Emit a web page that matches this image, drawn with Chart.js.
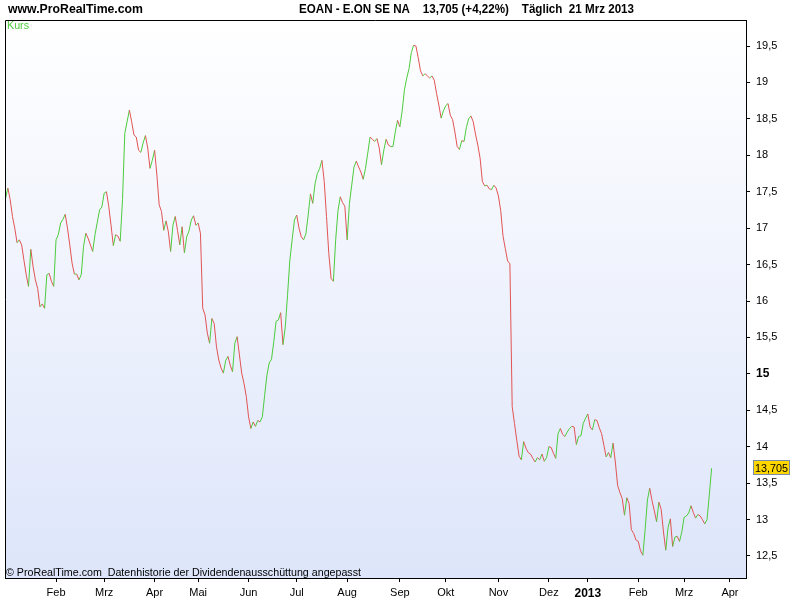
<!DOCTYPE html>
<html><head><meta charset="utf-8">
<script src="https://cdn.jsdelivr.net/npm/chart.js@4/dist/chart.umd.min.js"></script>
<style>html,body{margin:0;padding:0;background:#fff}#wrap{width:800px;height:600px;position:relative}</style>
</head><body><div id="wrap"><canvas id="c" width="800" height="600"></canvas></div>
<script>
// Daily closing prices (trading day index 0 = early Jan 2012)
const closes = [
17.41,17.55,17.39,17.16,17.00,16.80,16.84,16.77,16.56,16.36,
16.20,16.71,16.47,16.29,16.17,15.92,15.96,15.90,16.36,16.38,
16.27,16.20,16.84,16.91,17.07,17.12,17.19,17.00,16.77,16.52,
16.37,16.37,16.29,16.36,16.75,16.93,16.86,16.77,16.68,16.91,
17.08,17.25,17.29,17.48,17.50,17.30,17.04,16.76,16.91,16.89,
16.82,17.39,18.30,18.46,18.62,
18.46,18.28,18.25,18.07,18.04,18.17,18.27,18.10,17.82,17.93,
18.07,17.73,17.32,17.23,16.97,17.10,16.95,16.68,17.04,17.16,
16.97,16.77,17.02,16.66,16.88,16.96,17.11,17.17,17.04,17.07,
16.93,15.90,15.81,15.56,15.42,15.76,15.69,15.37,15.19,15.08,
15.01,15.18,15.24,15.12,15.03,15.42,15.51,15.26,15.01,14.87,
14.69,14.41,
14.25,14.34,14.28,14.36,14.34,14.41,14.70,14.98,15.15,15.20,
15.44,15.72,15.74,15.84,15.40,15.64,16.08,16.56,16.84,17.11,
17.18,17.00,16.88,16.84,16.92,17.18,17.47,17.34,17.61,17.75,
17.82,17.93,17.64,17.16,16.65,16.31,16.27,16.84,17.24,17.43,
17.35,17.30,16.84,17.34,17.59,17.84,17.92,17.84,17.77,17.67,
17.82,18.03,18.25,18.22,18.19,18.23,18.10,17.87,18.07,18.22,
18.14,18.12,18.12,18.32,18.48,18.39,
18.61,18.90,19.06,19.19,19.41,19.51,19.50,19.34,19.16,19.09,
19.12,19.09,19.06,19.09,19.03,18.85,18.69,18.51,18.61,18.68,
18.71,18.55,18.49,18.32,18.12,18.08,18.20,18.19,18.38,18.50,
18.54,18.46,18.29,18.14,17.96,17.64,17.58,17.59,17.54,17.53,
17.59,17.55,17.44,17.24,16.89,16.72,16.55,16.51,14.55,14.32,
14.09,13.87,
13.82,14.07,13.98,13.92,13.90,13.84,13.79,13.85,13.82,13.90,
13.80,13.85,14.00,13.99,13.91,13.84,14.18,14.25,14.17,14.14,
14.20,14.25,14.28,14.27,14.03,14.14,14.15,14.32,14.39,14.45,
14.27,14.23,14.37,14.36,14.26,14.18,14.02,
13.86,13.92,13.85,14.05,13.79,13.47,13.37,13.29,13.06,13.30,
13.22,12.86,12.81,12.72,12.70,12.57,12.51,12.86,13.27,13.43,
13.26,13.12,12.97,13.24,13.14,12.83,12.58,12.89,13.01,12.63,
12.76,12.77,12.70,12.83,13.03,13.05,13.09,13.19,13.10,13.02,
13.07,13.05,13.00,12.94,13.00,13.34,13.705
];
// Month-start trading-day indices and their labels
const monthTickIndex = [22,43,65,84,106,127,149,172,192,215,237,254,276,296,316];
const monthTickLabels = ['Feb','Mrz','Apr','Mai','Jun','Jul','Aug','Sep','Okt','Nov','Dez','2013','Feb','Mrz','Apr'];
const priceTicks = [12.5,13,13.5,14,14.5,15,15.5,16,16.5,17,17.5,18,18.5,19,19.5];
const siteText = 'www.ProRealTime.com';
const titleText = 'EOAN - E.ON SE NA    13,705 (+4,22%)    T\u00e4glich  21 Mrz 2013';
const seriesName = 'Kurs';
const footText = '\u00a9 ProRealTime.com  Datenhistorie der Dividendenaussch\u00fcttung angepasst';
const lastLabel = '13,705';

const UP = 'rgb(76,204,60)';
const DOWN = 'rgb(226,84,84)';
const FONT = '"Liberation Sans", Arial, sans-serif';

function fitText(ctx, text, x, y, width) {
  const w = ctx.measureText(text).width;
  ctx.save();
  ctx.translate(x, y);
  ctx.scale(width / w, 1);
  ctx.fillText(text, 0, 0);
  ctx.restore();
}

const decor = {
  id: 'decor',
  beforeDraw(chart) {
    const {ctx, chartArea: a} = chart;
    const g = ctx.createLinearGradient(0, a.top, 0, a.bottom);
    g.addColorStop(0, 'rgb(255,255,255)');
    g.addColorStop(1, 'rgb(221,229,250)');
    ctx.save();
    ctx.fillStyle = g;
    ctx.fillRect(a.left, a.top, a.right - a.left, a.bottom - a.top);
    ctx.restore();
  },
  afterDraw(chart) {
    const {ctx, chartArea: a} = chart;
    ctx.save();
    ctx.strokeStyle = '#000';
    ctx.lineWidth = 1;
    ctx.beginPath();
    ctx.moveTo(a.left + 0.5, a.bottom);
    ctx.lineTo(a.left + 0.5, a.top + 0.5);
    ctx.lineTo(a.right, a.top + 0.5);
    ctx.stroke();
    ctx.textBaseline = 'middle';
    ctx.fillStyle = '#000';
    ctx.font = 'bold 12px ' + FONT;
    fitText(ctx, siteText, 8, 10, 135);
    fitText(ctx, titleText, 299, 10, 335);
    ctx.font = '11px ' + FONT;
    fitText(ctx, footText, 6, 573, 355);
    ctx.fillStyle = UP;
    fitText(ctx, seriesName, 7, 26, 22);
    // last value label
    const ys = chart.scales.y;
    const last = closes[closes.length - 1];
    const py = Math.round(ys.getPixelForValue(last));
    ctx.fillStyle = 'rgb(255,215,0)';
    ctx.fillRect(753, py - 8, 37, 15);
    ctx.strokeStyle = 'rgb(120,140,170)';
    ctx.strokeRect(753.5, py - 7.5, 36, 14);
    ctx.fillStyle = '#000';
    ctx.font = '11px ' + FONT;
    ctx.textAlign = 'left';
    fitText(ctx, lastLabel, 755, py + 0.5, 33);
    ctx.restore();
  }
};

new Chart(document.getElementById('c'), {
  type: 'line',
  data: {
    datasets: [{
      label: seriesName,
      data: closes.map((v, i) => ({x: i, y: v})),
      borderWidth: 1,
      pointRadius: 0,
      tension: 0,
      fill: false,
      borderColor: UP,
      segment: {
        borderColor: c => (c.p1.parsed.y >= c.p0.parsed.y ? UP : DOWN)
      }
    }]
  },
  options: {
    responsive: false,
    animation: false,
    devicePixelRatio: 1,
    layout: {padding: {left: 5, top: 20, right: 0, bottom: 0}},
    plugins: {legend: {display: false}, tooltip: {enabled: false}},
    scales: {
      x: {
        type: 'linear',
        min: -0.26,
        max: 323,
        afterFit(s) { s.height = 22; },
        afterBuildTicks(s) { s.ticks = monthTickIndex.map(v => ({value: v})); },
        grid: {drawOnChartArea: false, drawTicks: true, tickLength: 4, color: '#000'},
        border: {display: true, color: '#000'},
        ticks: {
          autoSkip: false,
          maxRotation: 0,
          padding: 4,
          color: '#000',
          font: c => ({family: FONT, size: c.index === 11 ? 12 : 11, weight: c.index === 11 ? 'bold' : 'normal'}),
          callback: (v, i) => monthTickLabels[i]
        }
      },
      y: {
        type: 'linear',
        position: 'right',
        min: 12.198,
        max: 19.857,
        afterFit(s) { s.width = 54; },
        afterBuildTicks(s) { s.ticks = priceTicks.map(v => ({value: v})); },
        grid: {drawOnChartArea: false, drawTicks: true, tickLength: 4, color: '#000'},
        border: {display: true, color: '#000'},
        ticks: {
          autoSkip: false,
          padding: 6,
          color: '#000',
          font: c => ({family: FONT, size: c.tick && c.tick.value === 15 ? 12 : 11, weight: c.tick && c.tick.value === 15 ? 'bold' : 'normal'}),
          callback: v => String(v).replace('.', ',')
        }
      }
    }
  },
  plugins: [decor]
});
</script>
</body></html>
